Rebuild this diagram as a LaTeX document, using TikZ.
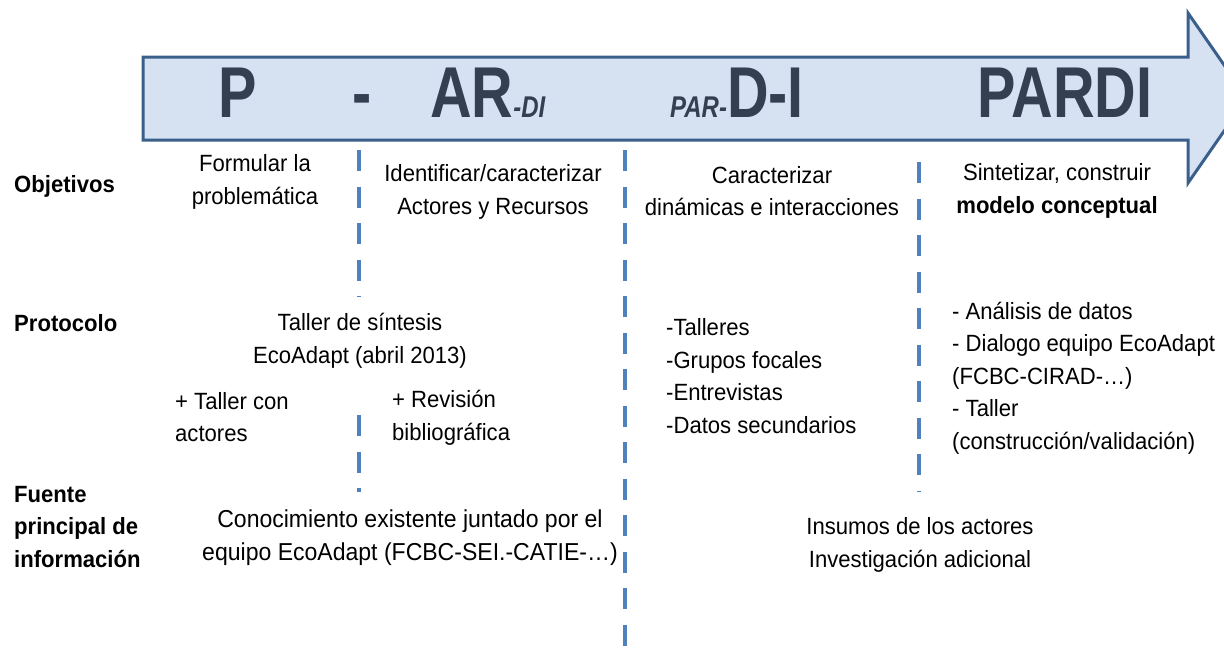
\documentclass[tikz,border=0pt]{standalone}
\usepackage{fontspec}
\setmainfont{Liberation Sans}[FakeStretch=0.94]
\newfontfamily\ttlfont{Liberation Sans}[FakeStretch=0.80]
\definecolor{arrowfill}{RGB}{214,226,242}
\definecolor{arrowline}{RGB}{58,95,139}
\definecolor{dashblue}{RGB}{79,129,189}
\definecolor{ttlcol}{RGB}{52,64,82}
\begin{document}
\begin{tikzpicture}[x=1pt,y=-1pt,
  ttl/.style={inner sep=0pt, text=ttlcol, font=\ttlfont\bfseries\fontsize{72}{74}\selectfont},
  body/.style={inner sep=0pt, text=black, font=\fontsize{23.5}{32.5}\selectfont},
  rowlabel/.style={body, anchor=west, align=left, font=\bfseries\fontsize{23.5}{32.5}\selectfont},
  sep/.style={draw=dashblue, line width=4pt, dash pattern=on 21pt off 15.5pt}]
\useasboundingbox (0,0) rectangle (1224,657);
% big arrow
\draw[fill=arrowfill, draw=arrowline, line width=3pt, line join=miter]
  (143,57) -- (1188,57) -- (1188,13) -- (1247,98) -- (1188,183) -- (1188,140) -- (143,140) -- cycle;
% title
\newcommand\tsm{\fontsize{30}{31}\selectfont\itshape}
\node[ttl, anchor=base west] (tP) at (218,117) {P};
\node[ttl, anchor=base] (tdash) at (362,117) {-};
\node[ttl, anchor=base west] (tAR) at (430,117) {AR{\tsm -DI}};
\node[ttl, anchor=base east] (tDI) at (804,117) {{\tsm PAR-}D-I};
\node[ttl, anchor=base] (tPARDI) at (1065,117) {PARDI};
% separators
\coordinate (s1a) at (359,150); \coordinate (s1b) at (359,297);
\coordinate (s1c) at (359,415); \coordinate (s1d) at (359,492);
\coordinate (s2a) at (625,150); \coordinate (s2b) at (625,646);
\coordinate (s3a) at (919,162); \coordinate (s3b) at (919,492);
\draw[sep] (s1a) -- (s1b);
\draw[sep] (s1c) -- (s1d);
\draw[sep] (s2a) -- (s2b);
\draw[sep] (s3a) -- (s3b);
% row labels
\node[rowlabel] (lObj) at (14,186) {Objetivos};
\node[rowlabel] (lProt) at (14,323) {Protocolo};
\node[rowlabel] (lFuente) at (14,527) {Fuente\\principal de\\información};
% objetivos
\node[body, align=center] (o1) at (255,182) {Formular la\\problemática};
\node[body, align=center] (o2) at (493,192) {Identificar/caracterizar\\Actores y Recursos};
\node[body, align=center] (o3) at (772,191) {Caracterizar\\dinámicas e interacciones};
\node[body, align=center] (o4) at (1057,191) {Sintetizar, construir\\\textbf{modelo conceptual}};
% protocolo
\node[body, align=center] (p1) at (360,341) {Taller de síntesis\\EcoAdapt (abril 2013)};
\node[body, align=left, anchor=west] (p2) at (175,417) {+ Taller con\\actores};
\node[body, align=left, anchor=west] (p3) at (392,418) {+ Revisión\\bibliográfica};
\node[body, align=left, anchor=west] (p4) at (666,376) {-Talleres\\-Grupos focales\\-Entrevistas\\-Datos secundarios};
\node[body, align=left, anchor=west] (p5) at (952,378) {- Análisis de datos\\- Dialogo equipo EcoAdapt\\(FCBC-CIRAD-…)\\- Taller\\(construcción/validación)};
% fuente
\node[body, align=center, font=\fontsize{24.5}{33}\selectfont] (f1) at (410,538) {Conocimiento existente juntado por el\\equipo EcoAdapt (FCBC-SEI.-CATIE-…)};
\node[body, align=center] (f2) at (920,545) {Insumos de los actores\\Investigación adicional};
\end{tikzpicture}
\end{document}
